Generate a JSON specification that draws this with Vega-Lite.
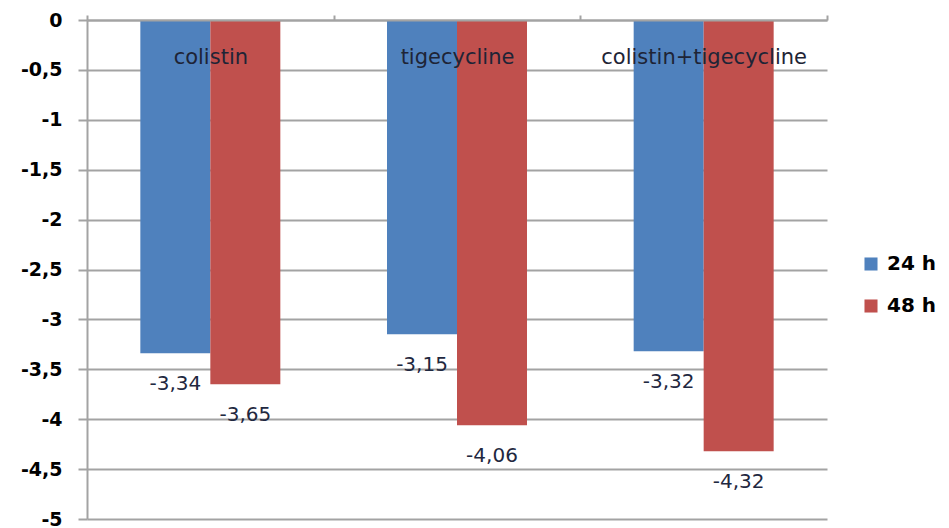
{
  "$schema": "https://vega.github.io/schema/vega-lite/v6.json",
  "width": 740,
  "height": 499,
  "autosize": {"type": "none"},
  "padding": {"left": 87, "top": 20, "right": 122, "bottom": 9},
  "config": {
    "locale": {"number": {"decimal": ",", "thousands": ".", "grouping": [3], "currency": ["", " €"], "minus": "-"}},
    "view": {"stroke": null},
    "font": "DejaVu Sans"
  },
  "data": {
    "values": [
      {"drug": "colistin", "time": "24 h", "value": -3.34},
      {"drug": "colistin", "time": "48 h", "value": -3.65},
      {"drug": "tigecycline", "time": "24 h", "value": -3.15},
      {"drug": "tigecycline", "time": "48 h", "value": -4.06},
      {"drug": "colistin+tigecycline", "time": "24 h", "value": -3.32},
      {"drug": "colistin+tigecycline", "time": "48 h", "value": -4.32}
    ]
  },
  "encoding": {
    "x": {
      "field": "drug",
      "type": "nominal",
      "sort": ["colistin", "tigecycline", "colistin+tigecycline"],
      "scale": {"paddingInner": 0, "paddingOuter": 0},
      "axis": {
        "orient": "top",
        "title": null,
        "zindex": 1,
        "domainColor": "#a3a3a3",
        "domainWidth": 2,
        "tickColor": "#a3a3a3",
        "tickWidth": 2,
        "tickSize": 5,
        "tickBand": "extent",
        "labelAngle": 0,
        "labelPadding": -42,
        "labelBaseline": "middle",
        "labelFontSize": 21,
        "labelColor": "#1e2436",
        "labelLimit": 0,
        "labelOverlap": false
      }
    },
    "xOffset": {
      "field": "time",
      "type": "nominal",
      "sort": ["24 h", "48 h"],
      "scale": {"paddingInner": 0, "paddingOuter": 0.762}
    },
    "y": {
      "field": "value",
      "type": "quantitative",
      "scale": {"domain": [-5, 0], "nice": false},
      "axis": {
        "title": null,
        "values": [0, -0.5, -1, -1.5, -2, -2.5, -3, -3.5, -4, -4.5, -5],
        "format": ".1~f",
        "domainColor": "#a3a3a3",
        "domainWidth": 2,
        "tickColor": "#a3a3a3",
        "tickWidth": 2,
        "tickSize": 9,
        "gridColor": "#a3a3a3",
        "gridWidth": 2,
        "labelFontSize": 19,
        "labelFontWeight": "bold",
        "labelColor": "#000000",
        "labelPadding": 16
      }
    }
  },
  "layer": [
    {
      "mark": {"type": "bar"},
      "encoding": {
        "color": {
          "field": "time",
          "type": "nominal",
          "scale": {"domain": ["24 h", "48 h"], "range": ["#4F81BD", "#C0504D"]},
          "legend": {
            "orient": "none",
            "legendX": 774,
            "legendY": 234,
            "title": null,
            "symbolType": "square",
            "symbolSize": 170,
            "symbolStrokeWidth": 0,
            "labelFontSize": 20,
            "labelFontWeight": "bold",
            "labelColor": "#000000",
            "labelOffset": 6,
            "rowPadding": 22
          }
        }
      }
    },
    {
      "mark": {"type": "text", "baseline": "top", "dy": 21, "fontSize": 20, "color": "#1f2840"},
      "encoding": {
        "text": {"field": "value", "type": "quantitative", "format": ".2f"}
      }
    }
  ]
}
